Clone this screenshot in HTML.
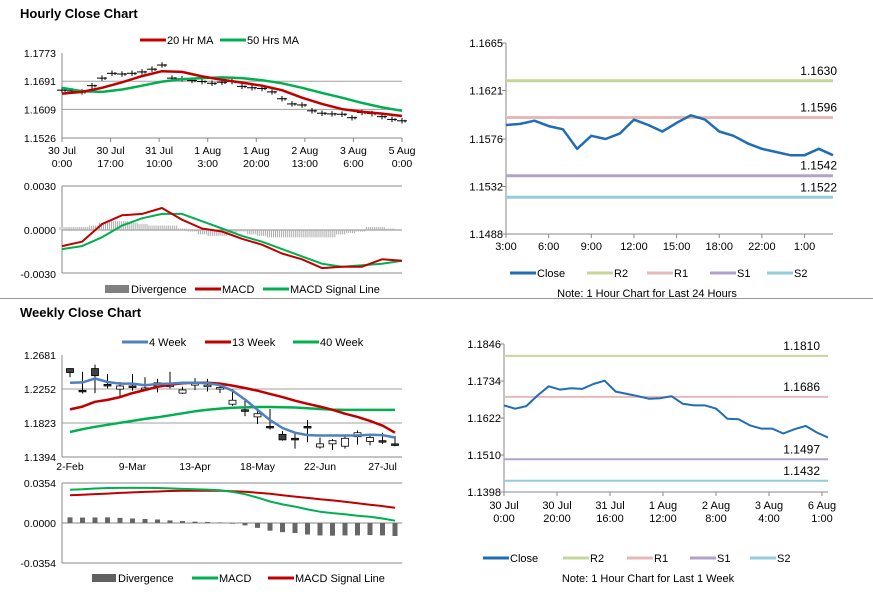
<!DOCTYPE html>
<html><head><meta charset="utf-8"><style>
body{margin:0;background:#fff;}
svg{display:block;font-family:"Liberation Sans",Arial,sans-serif;}
</style></head><body>
<svg id="s" width="873" height="601" viewBox="0 0 873 601">
<rect width="873" height="601" fill="#fff"/>
<text x="20" y="18" font-size="13" font-weight="bold">Hourly Close Chart</text>
<line x1="0" y1="298.5" x2="873" y2="298.5" stroke="#999"/>
<text x="20" y="317" font-size="13" font-weight="bold">Weekly Close Chart</text>
</svg>
<script>
// ---- data ----
const hourlyClose=[1.1665,1.1663,1.1660,1.1678,1.1700,1.1714,1.1712,1.1714,1.1718,1.1726,1.1738,1.1700,1.1698,1.1693,1.1690,1.1685,1.1688,1.1690,1.1676,1.1672,1.1670,1.1660,1.1640,1.1625,1.1622,1.1605,1.1598,1.1596,1.1595,1.1585,1.1600,1.1597,1.1588,1.1580,1.1576];
const hourlyMa20=[1.1655,1.1660,1.1672,1.1688,1.1706,1.1720,1.1718,1.1705,1.1695,1.1687,1.1678,1.1665,1.1643,1.1625,1.1610,1.1602,1.1597,1.1590];
const hourlyMa50=[1.1672,1.1662,1.1660,1.1667,1.1678,1.1690,1.1697,1.1700,1.1702,1.1700,1.1694,1.1685,1.1672,1.1657,1.1643,1.1628,1.1615,1.1605];
const hourlyXLabels=[["30 Jul","0:00"],["30 Jul","17:00"],["31 Jul","10:00"],["1 Aug","3:00"],["1 Aug","20:00"],["2 Aug","13:00"],["3 Aug","6:00"],["5 Aug","0:00"]];
const hourlyYTicks=[1.1773,1.1691,1.1609,1.1526];
const hourlyMacd=[-0.0011,-0.0008,0.0004,0.0010,0.0011,0.0015,0.0007,0.0001,-0.0001,-0.0006,-0.0010,-0.0016,-0.0020,-0.0026,-0.0025,-0.0025,-0.0020,-0.0021];
const hourlySignal=[-0.0013,-0.0011,-0.0005,0.0003,0.0008,0.0011,0.0011,0.0006,0.0001,-0.0004,-0.0008,-0.0013,-0.0018,-0.0023,-0.0025,-0.0024,-0.0023,-0.0021];
const hourlyDiv=[0.0002,0.0002,0.0002,0.0003,0.0005,0.0006,0.0006,0.0005,0.0004,0.0003,0.0003,0.0003,0.0001,-0.0001,-0.0003,-0.0004,-0.0004,-0.0002,-0.0001,-0.0003,-0.0004,-0.0005,-0.0005,-0.0005,-0.0005,-0.0005,-0.0005,-0.0005,-0.0003,-0.0002,-0.0001,0.0002,0.0002,0.0001,0.0000];
const hourlyMacdTicks=[0.0030,0.0000,-0.0030];

const dayClose=[1.1589,1.1590,1.1593,1.1588,1.1585,1.1567,1.1579,1.1576,1.1581,1.1594,1.1589,1.1583,1.1591,1.1598,1.1594,1.1583,1.1579,1.1572,1.1567,1.1564,1.1561,1.1561,1.1567,1.1561];
const dayLevels=[1.1630,1.1596,1.1542,1.1522];
const dayYTicks=[1.1665,1.1621,1.1576,1.1532,1.1488];
const dayXLabels=["3:00","6:00","9:00","12:00","15:00","18:00","22:00","1:00"];
const dayXLabelIdx=[0,3,6,9,12,15,18,21];

const wkOpen =[1.2510,1.2235,1.2510,1.2310,1.2250,1.2290,1.2260,1.2290,1.2300,1.2200,1.2320,1.2300,1.2270,1.2060,1.1990,1.1900,1.1780,1.1680,1.1630,1.1780,1.1520,1.1560,1.1530,1.1650,1.1590,1.1600,1.1560];
const wkClose=[1.2460,1.2225,1.2420,1.2290,1.2290,1.2280,1.2265,1.2330,1.2300,1.2240,1.2320,1.2300,1.2270,1.2110,1.1970,1.1940,1.1770,1.1610,1.1610,1.1760,1.1560,1.1600,1.1630,1.1700,1.1640,1.1590,1.1540];
const wkHigh =[1.2515,1.2470,1.2560,1.2440,1.2340,1.2440,1.2400,1.2380,1.2470,1.2280,1.2390,1.2380,1.2300,1.2250,1.2130,1.1990,1.2000,1.1720,1.1700,1.1860,1.1640,1.1620,1.1680,1.1730,1.1690,1.1700,1.1660];
const wkLow  =[1.2400,1.2195,1.2200,1.2260,1.2150,1.2230,1.2240,1.2210,1.2260,1.2190,1.2240,1.2220,1.2200,1.2040,1.1910,1.1810,1.1740,1.1600,1.1500,1.1580,1.1500,1.1480,1.1500,1.1550,1.1540,1.1560,1.1530];
const wk4=[1.2330,1.2335,1.2385,1.2340,1.2320,1.2320,1.2300,1.2315,1.2320,1.2330,1.2330,1.2325,1.2300,1.2230,1.2120,1.1990,1.1860,1.1760,1.1700,1.1670,1.1665,1.1665,1.1665,1.1665,1.1675,1.1670,1.1640];
const wk13=[1.1995,1.2030,1.2090,1.2115,1.2150,1.2200,1.2240,1.2280,1.2305,1.2325,1.2330,1.2330,1.2320,1.2295,1.2265,1.2230,1.2190,1.2150,1.2105,1.2065,1.2030,1.1990,1.1940,1.1900,1.1850,1.1790,1.1700];
const wk40=[1.1710,1.1745,1.1775,1.1800,1.1825,1.1850,1.1875,1.1895,1.1920,1.1945,1.1970,1.1990,1.2005,1.2015,1.2020,1.2025,1.2025,1.2022,1.2018,1.2010,1.2000,1.1992,1.1988,1.1988,1.1988,1.1988,1.1988];
const wkYTicks=[1.2681,1.2252,1.1823,1.1394];
const wkXLabels=["2-Feb","9-Mar","13-Apr","18-May","22-Jun","27-Jul"];
const wkXLabelIdx=[0,5,10,15,20,25];
const wkMacd=[0.0295,0.0298,0.0305,0.0310,0.0311,0.0311,0.0311,0.0310,0.0306,0.0302,0.0298,0.0296,0.0290,0.0275,0.0255,0.0225,0.0190,0.0165,0.0145,0.0120,0.0100,0.0088,0.0078,0.0065,0.0055,0.0040,0.0020];
const wkSignal=[0.0245,0.0250,0.0256,0.0260,0.0266,0.0271,0.0275,0.0279,0.0283,0.0285,0.0286,0.0287,0.0285,0.0281,0.0276,0.0268,0.0258,0.0246,0.0234,0.0222,0.0210,0.0200,0.0188,0.0175,0.0162,0.0150,0.0135];
const wkDiv=[0.0050,0.0048,0.0049,0.0050,0.0045,0.0040,0.0036,0.0031,0.0023,0.0017,0.0012,0.0009,0.0005,-0.0006,-0.0021,-0.0043,-0.0068,-0.0081,-0.0089,-0.0102,-0.0110,-0.0112,-0.0110,-0.0110,-0.0107,-0.0110,-0.0115];
const wkMacdTicks=[0.0354,0.0000,-0.0354];

const weekClose=[1.1660,1.1650,1.1658,1.1690,1.1718,1.1708,1.1712,1.1710,1.1725,1.1735,1.1702,1.1695,1.1688,1.1680,1.1682,1.1688,1.1665,1.1660,1.1660,1.1650,1.1620,1.1618,1.1600,1.1590,1.1590,1.1575,1.1588,1.1598,1.1578,1.1563];
const weekLevels=[1.1810,1.1686,1.1497,1.1432];
const weekYTicks=[1.1846,1.1734,1.1622,1.1510,1.1398];
const weekXLabels=[["30 Jul","0:00"],["30 Jul","20:00"],["31 Jul","16:00"],["1 Aug","12:00"],["2 Aug","8:00"],["3 Aug","4:00"],["6 Aug","1:00"]];

const RED="#c00000",GREEN="#00b050",BLUE4="#4f81bd",CLOSE="#1f6db4",GREY="#808080";
const LVL=["#c4d79b","#e6b9b8","#b3a2c7","#93cddd"];
const LVLN=["R2","R1","S1","S2"];
const svg=document.getElementById('s');
const NS="http://www.w3.org/2000/svg";
function mk(tag,attrs,name,inter){
  const el=document.createElementNS(NS,tag);
  for(const k in attrs) el.setAttribute(k,attrs[k]);
  
  
  svg.appendChild(el);return el;
}
function txt(x,y,s,name,anchor,size){
  const t=mk('text',{x:x,y:y,'font-size':size||11,'text-anchor':anchor||'start',fill:'#000'},name);
  t.textContent=s;return t;
}
function line(x1,y1,x2,y2,c,w,name){return mk('line',{x1:x1,y1:y1,x2:x2,y2:y2,stroke:c,'stroke-width':w||1},name);}
function poly(vals,xf,yf,c,w,name){
  const p=vals.map((v,i)=>xf(i).toFixed(1)+','+yf(v).toFixed(1)).join(' ');
  return mk('polyline',{points:p,fill:'none',stroke:c,'stroke-width':w,'stroke-linejoin':'round'},name);
}
function legLine(x,y,c,label,name,w){line(x,y,x+26,y,c,w||3,name+'-swatch');txt(x+27,y+4,label,name,'start',11);}
function legBox(x,y,c,label,name){mk('rect',{x:x,y:y-4,width:24,height:8,fill:c},name+'-swatch');txt(x+26,y+4,label,name,'start',11);}

// ===== Hourly price (top-left) =====
{
 const x0=62,x1=402,yTop=53,yBot=138,vMin=1.1526,vMax=1.1773;
 const yf=v=>yBot-(v-vMin)/(vMax-vMin)*(yBot-yTop);
 hourlyYTicks.forEach((t,i)=>{ if(i>0&&i<hourlyYTicks.length-1) line(x0,yf(t),x1,yf(t),'#a0a0a0',1,'h-gridline'); txt(56,yf(t)+4,t.toFixed(4),'h-y-tick','end',10.5);});
 line(x0,yBot,x1,yBot,'#888',1,'h-x-axis');line(x0,yTop,x0,yBot,'#888',1,'h-y-axis');
 const step=(x1-x0)/(hourlyXLabels.length-1);
 hourlyXLabels.forEach((l,i)=>{const x=x0+i*step;line(x,yBot,x,yBot+4,'#888',1,'h-x-tick');txt(x,yBot+16,l[0],'h-x-label','middle',10.5);txt(x,yBot+29,l[1],'h-x-label','middle',10.5);});
 const xc=i=>x0+i*(x1-x0)/(hourlyClose.length-1);
 hourlyClose.forEach((v,i)=>{
   line(xc(i),yf(v+0.0008),xc(i),yf(v-0.0008),'#000',1,'h-price-bar');
   line(xc(i)+3,yf(v+0.0003),xc(i)+3,yf(v-0.0005),'#000',1,'h-price-bar');
   line(xc(i)-5,yf(v),xc(i)+5,yf(v),'#000',1,'h-price-tick');
 });
 const xm=i=>x0+i*(x1-x0)/(hourlyMa20.length-1);
 poly(hourlyMa50,xm,yf,GREEN,2.5,'h-ma50-line');
 poly(hourlyMa20,xm,yf,RED,2.5,'h-ma20-line');
 legLine(140,40,RED,'20 Hr MA','h-legend-ma20');
 legLine(220,40,GREEN,'50 Hrs MA','h-legend-ma50');
}
// ===== Hourly MACD =====
{
 const x0=62,x1=402,y0=230,yTop=186,yBot=273;
 const yf=v=>y0-v/0.003*(y0-yTop);
 line(x0,yBot,x1,yBot,'#888',1,'hm-x-axis');line(x0,yTop,x1,yTop,'#888',1,'hm-top-line');line(x0,yTop,x0,yBot,'#888',1,'hm-y-axis');
 line(x0,y0,x1,y0,'#888',1,'hm-zero-line');
 hourlyMacdTicks.forEach(t=>txt(56,yf(t)+4,t.toFixed(4),'hm-y-tick','end',10.5));
 const xd=i=>x0+2+i*(x1-x0-4)/(hourlyDiv.length-1);
 hourlyDiv.forEach((v,i)=>{for(let k=-2;k<=2;k++) line(xd(i)+k*2,y0,xd(i)+k*2,yf(v),'#aaa',1,'hm-divergence-bar');});
 const xm=i=>x0+i*(x1-x0)/(hourlyMacd.length-1);
 poly(hourlySignal,xm,yf,GREEN,2,'hm-signal-line');
 poly(hourlyMacd,xm,yf,RED,2,'hm-macd-line');
 legBox(105,289,GREY,'Divergence','hm-legend-divergence');
 legLine(195,289,RED,'MACD','hm-legend-macd');
 legLine(263,289,GREEN,'MACD Signal Line','hm-legend-signal');
}
// ===== Right hourly =====
{
 const x0=506,x1=833,yTop=43,yBot=234,vMin=1.1488,vMax=1.1665;
 const yf=v=>yBot-(v-vMin)/(vMax-vMin)*(yBot-yTop);
 const xf=i=>x0+i*(x1-x0)/(dayClose.length-1);
 line(x0,yTop,x0,yBot,'#888',1,'d-y-axis');line(x0,yBot,x1,yBot,'#888',1,'d-x-axis');
 dayYTicks.forEach(t=>{line(x0-4,yf(t),x0,yf(t),'#888',1,'d-y-tick-mark');txt(x0-3,yf(t)+4,t.toFixed(4),'d-y-tick','end',11);});
 dayXLabels.forEach((l,i)=>{const x=xf(dayXLabelIdx[i]);line(x,yBot,x,yBot+4,'#888',1,'d-x-tick');txt(x,yBot+16,l,'d-x-label','middle',11);});
 dayLevels.forEach((v,i)=>{line(x0,yf(v),x1,yf(v),LVL[i],3,'d-level-'+LVLN[i]);txt(837,yf(v)-6,v.toFixed(4),'d-level-label','end',12);});
 poly(dayClose,xf,yf,CLOSE,2.5,'d-close-line');
 legLine(510,273,CLOSE,'Close','d-legend-close');
 [587,647,710,767].forEach((x,i)=>legLine(x,273,LVL[i],LVLN[i],'d-legend-'+LVLN[i]));
 txt(647,297,'Note: 1 Hour Chart for Last 24 Hours','d-note','middle',11);
}
// ===== Weekly candles =====
{
 const x0=62,x1=402,yTop=355,yBot=457,vMin=1.1394,vMax=1.2681;
 const yf=v=>yBot-(v-vMin)/(vMax-vMin)*(yBot-yTop);
 const xf=i=>70+i*12.5;
 wkYTicks.forEach((t,i)=>{ if(i>0&&i<wkYTicks.length-1) line(x0,yf(t),x1,yf(t),'#a0a0a0',1,'w-gridline'); txt(56,yf(t)+4,t.toFixed(4),'w-y-tick','end',10.5);});
 line(x0,yBot,x1,yBot,'#888',1,'w-x-axis');line(x0,yTop,x0,yBot,'#888',1,'w-y-axis');
 wkXLabels.forEach((l,i)=>txt(xf(wkXLabelIdx[i]),yBot+13,l,'w-x-label','middle',10.5));
 wkOpen.forEach((o,i)=>{
   const c=wkClose[i],x=xf(i);
   line(x,yf(wkHigh[i]),x,yf(wkLow[i]),'#000',1,'w-candle-wick');
   const top=yf(Math.max(o,c)),h=Math.max(1.5,Math.abs(yf(o)-yf(c)));
   mk('rect',{x:x-3.5,y:top,width:7,height:h,fill:c<o?'#404040':'#fff',stroke:'#000','stroke-width':0.8},'w-candle-body');
 });
 poly(wk40,xf,yf,GREEN,2.5,'w-ma40-line');
 poly(wk13,xf,yf,RED,2.5,'w-ma13-line');
 poly(wk4,xf,yf,BLUE4,2.5,'w-ma4-line');
 legLine(122,342,BLUE4,'4 Week','w-legend-4wk');
 legLine(205,342,RED,'13 Week','w-legend-13wk');
 legLine(293,342,GREEN,'40 Week','w-legend-40wk');
}
// ===== Weekly MACD =====
{
 const x0=62,x1=402,y0=523,yTop=483,yBot=563;
 const yf=v=>y0-v/0.0354*(y0-yTop);
 const xf=i=>70+i*12.5;
 line(x0,yTop,x1,yTop,'#888',1,'wm-top-line');line(x0,yBot,x1,yBot,'#888',1,'wm-x-axis');line(x0,yTop,x0,yBot,'#888',1,'wm-y-axis');
 line(x0,y0,x1,y0,'#888',1,'wm-zero-line');
 wkMacdTicks.forEach(t=>txt(56,yf(t)+4,t.toFixed(4),'wm-y-tick','end',10.5));
 wkDiv.forEach((v,i)=>{const a=yf(v);mk('rect',{x:xf(i)-2.5,y:Math.min(a,y0),width:5,height:Math.max(0.5,Math.abs(a-y0)),fill:'#666'},'wm-divergence-bar');});
 poly(wkSignal,xf,yf,RED,2,'wm-signal-line');
 poly(wkMacd,xf,yf,GREEN,2,'wm-macd-line');
 legBox(92,578,'#606060','Divergence','wm-legend-divergence');
 legLine(192,578,GREEN,'MACD','wm-legend-macd');
 legLine(268,578,RED,'MACD Signal Line','wm-legend-signal');
}
// ===== Right weekly =====
{
 const x0=504,x1=828,yTop=344,yBot=492,vMin=1.1398,vMax=1.1846;
 const yf=v=>yBot-(v-vMin)/(vMax-vMin)*(yBot-yTop);
 const xf=i=>x0+i*(x1-x0)/(weekClose.length-1);
 line(x0,yTop,x0,yBot,'#888',1,'k-y-axis');line(x0,yBot,x1,yBot,'#888',1,'k-x-axis');
 weekYTicks.forEach(t=>{line(x0-4,yf(t),x0,yf(t),'#888',1,'k-y-tick-mark');txt(x0-3,yf(t)+4,t.toFixed(4),'k-y-tick','end',11);});
 const st=(822-x0)/(weekXLabels.length-1);
 weekXLabels.forEach((l,i)=>{const x=x0+i*st;line(x,yBot,x,yBot+4,'#888',1,'k-x-tick');txt(x,yBot+17,l[0],'k-x-label','middle',11);txt(x,yBot+30,l[1],'k-x-label','middle',11);});
 weekLevels.forEach((v,i)=>{line(x0,yf(v),x1,yf(v),LVL[i],2,'k-level-'+LVLN[i]);txt(820,yf(v)-6,v.toFixed(4),'k-level-label','end',12);});
 poly(weekClose,xf,yf,CLOSE,2,'k-close-line');
 legLine(483,558,CLOSE,'Close','k-legend-close');
 [563,627,690,750].forEach((x,i)=>legLine(x,558,LVL[i],LVLN[i],'k-legend-'+LVLN[i]));
 txt(648,582,'Note: 1 Hour Chart for Last 1 Week','k-note','middle',11);
}
</script>
</body></html>
